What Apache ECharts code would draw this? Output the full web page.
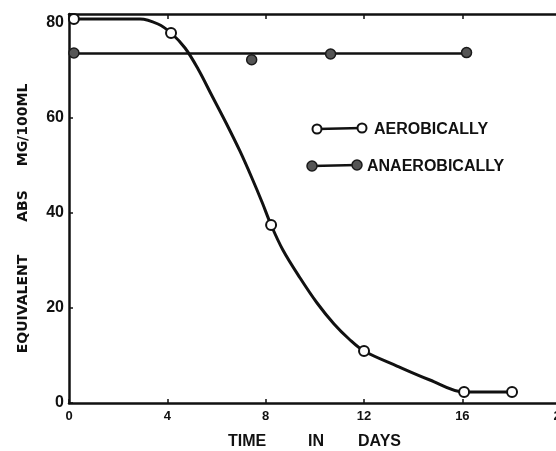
<!DOCTYPE html>
<html>
<head>
<meta charset="utf-8">
<title>Equivalent ABS vs time</title>
<script src="https://cdn.jsdelivr.net/npm/echarts@6/dist/echarts.min.js"></script>
<style>
    html, body { margin: 0; padding: 0; background: #fff; }
    #chart { width: 556px; height: 451px; }
</style>
</head>
<body>
<div id="chart"></div>
<script>
// 数据 —— 从图上读出来的
const aerobicDays = [0.2, 4.15, 8.22, 12.0, 16.07, 18.02];
const aerobicValues = [80.65, 77.71, 37.39, 10.92, 2.31, 2.31];
const anaerobicDays = [0.2, 7.43, 10.64, 16.17];
const anaerobicValues = [73.5, 72.1, 73.3, 73.6];
// 手画的平滑曲线（沿曲线读点）
const curveDays = [0.2, 2.89, 3.62, 4.15, 4.72, 5.25, 5.82, 6.39, 6.95, 7.44, 7.85, 8.22, 8.7, 9.4, 10.09, 10.78, 11.39, 12.0, 13.34, 14.68, 16.07, 18.02];
const curveValues = [80.65, 80.65, 79.6, 77.71, 74.56, 70.15, 64.48, 58.81, 52.93, 47.26, 42.22, 37.39, 32.14, 26.25, 21.0, 16.59, 13.44, 10.92, 7.77, 4.83, 2.31, 2.31];
// 厌氧的水平线
const anaerobicLineDays = [0, 16.17];
const anaerobicLineValues = [73.4, 73.4];
const xTickStep = 4;
const yTickStep = 20;

const zip = (xs, ys) => xs.map((x, i) => [x, ys[i]]);

const FONT = "'Liberation Sans', Arial, sans-serif";
const TITLE_FONT = "'DejaVu Sans', sans-serif";
const INK = '#111';

window.onload = function () {
    let myChart = echarts.init(document.getElementById('chart'));

    let axisCommon = {
        type: 'value',
        splitLine: { show: false },
        axisLine: { show: true, onZero: false, lineStyle: { color: INK, width: 2.5 } },
        axisTick: { show: true, inside: true, length: 4, lineStyle: { color: INK, width: 1.5 } }
    };

    let option = {
        backgroundColor: '#fff',
        animation: false,
        // 右边框在画面外（原图被裁掉了）
        grid: { left: 69, top: 14, bottom: 48, right: -17, containLabel: false, outerBoundsMode: 'none' },
        xAxis: [
            Object.assign({}, axisCommon, {
                min: 0, max: 20.5, interval: xTickStep, position: 'bottom',
                axisLabel: {
                    color: INK, fontSize: 13, fontWeight: 'bold', fontFamily: FONT, margin: 7,
                    formatter: v => (v % xTickStep === 0 ? String(v) : '')
                }
            }),
            Object.assign({}, axisCommon, {
                min: 0, max: 20.5, interval: xTickStep, position: 'top',
                axisTick: { show: true, inside: true, length: 5, lineStyle: { color: INK, width: 1.5 } },
                axisLabel: { show: false }
            })
        ],
        yAxis: Object.assign({}, axisCommon, {
            min: 0, max: 81.7, interval: yTickStep,
            axisLabel: {
                color: INK, fontSize: 16, fontWeight: 'bold', fontFamily: FONT, margin: 5,
                formatter: v => (v % yTickStep === 0 ? String(v) : '')
            }
        }),
        series: [
            {
                // 有氧 曲线
                type: 'line',
                data: zip(curveDays, curveValues),
                smooth: 0.35,
                symbol: 'none',
                lineStyle: { color: INK, width: 3 },
                z: 2
            },
            {
                type: 'scatter',
                name: 'AEROBICALLY',
                data: zip(aerobicDays, aerobicValues),
                symbol: 'circle',
                symbolSize: 10,
                itemStyle: { color: '#fff', borderColor: INK, borderWidth: 2, opacity: 1 },
                z: 4
            },
            {
                // 厌氧 水平线
                type: 'line',
                data: zip(anaerobicLineDays, anaerobicLineValues),
                symbol: 'none',
                lineStyle: { color: INK, width: 2.5 },
                z: 2
            },
            {
                type: 'scatter',
                name: 'ANAEROBICALLY',
                data: zip(anaerobicDays, anaerobicValues),
                symbol: 'circle',
                symbolSize: 10,
                itemStyle: { color: '#555', borderColor: '#1a1a1a', borderWidth: 1.5, opacity: 1 },
                z: 4
            }
        ],
        graphic: [
            // 图例
            { type: 'line', shape: { x1: 317, y1: 129, x2: 362, y2: 128 }, style: { stroke: INK, lineWidth: 2.5 } },
            { type: 'circle', shape: { cx: 317, cy: 129, r: 4.5 }, style: { fill: '#fff', stroke: INK, lineWidth: 2 } },
            { type: 'circle', shape: { cx: 362, cy: 128, r: 4.5 }, style: { fill: '#fff', stroke: INK, lineWidth: 2 } },
            { type: 'text', left: 374, top: 122, style: { text: 'AEROBICALLY', fill: INK, font: 'bold 16px ' + FONT } },
            { type: 'line', shape: { x1: 312, y1: 166, x2: 357, y2: 165 }, style: { stroke: INK, lineWidth: 2.5 } },
            { type: 'circle', shape: { cx: 312, cy: 166, r: 5 }, style: { fill: '#555', stroke: '#1a1a1a', lineWidth: 1.5 } },
            { type: 'circle', shape: { cx: 357, cy: 165, r: 5 }, style: { fill: '#555', stroke: '#1a1a1a', lineWidth: 1.5 } },
            { type: 'text', left: 367, top: 159, style: { text: 'ANAEROBICALLY', fill: INK, font: 'bold 16px ' + FONT } },
            // x 轴标题
            { type: 'text', x: 228, y: 442, style: { text: 'TIME', fill: INK, font: 'bold 16px ' + FONT, verticalAlign: 'middle' } },
            { type: 'text', x: 308, y: 442, style: { text: 'IN', fill: INK, font: 'bold 16px ' + FONT, verticalAlign: 'middle' } },
            { type: 'text', x: 358, y: 442, style: { text: 'DAYS', fill: INK, font: 'bold 16px ' + FONT, verticalAlign: 'middle' } },
            // y 轴标题（竖排）
            { type: 'text', x: 23, y: 304, rotation: Math.PI / 2, style: { text: 'EQUIVALENT', fill: INK, font: 'bold 14px ' + TITLE_FONT, align: 'center', verticalAlign: 'middle' } },
            { type: 'text', x: 23, y: 206, rotation: Math.PI / 2, style: { text: 'ABS', fill: INK, font: 'bold 14px ' + TITLE_FONT, align: 'center', verticalAlign: 'middle' } },
            { type: 'text', x: 23, y: 125, rotation: Math.PI / 2, style: { text: 'MG/100ML', fill: INK, font: 'bold 14px ' + TITLE_FONT, align: 'center', verticalAlign: 'middle' } }
        ]
    };

    myChart.setOption(option);
}
</script>
</body>
</html>
